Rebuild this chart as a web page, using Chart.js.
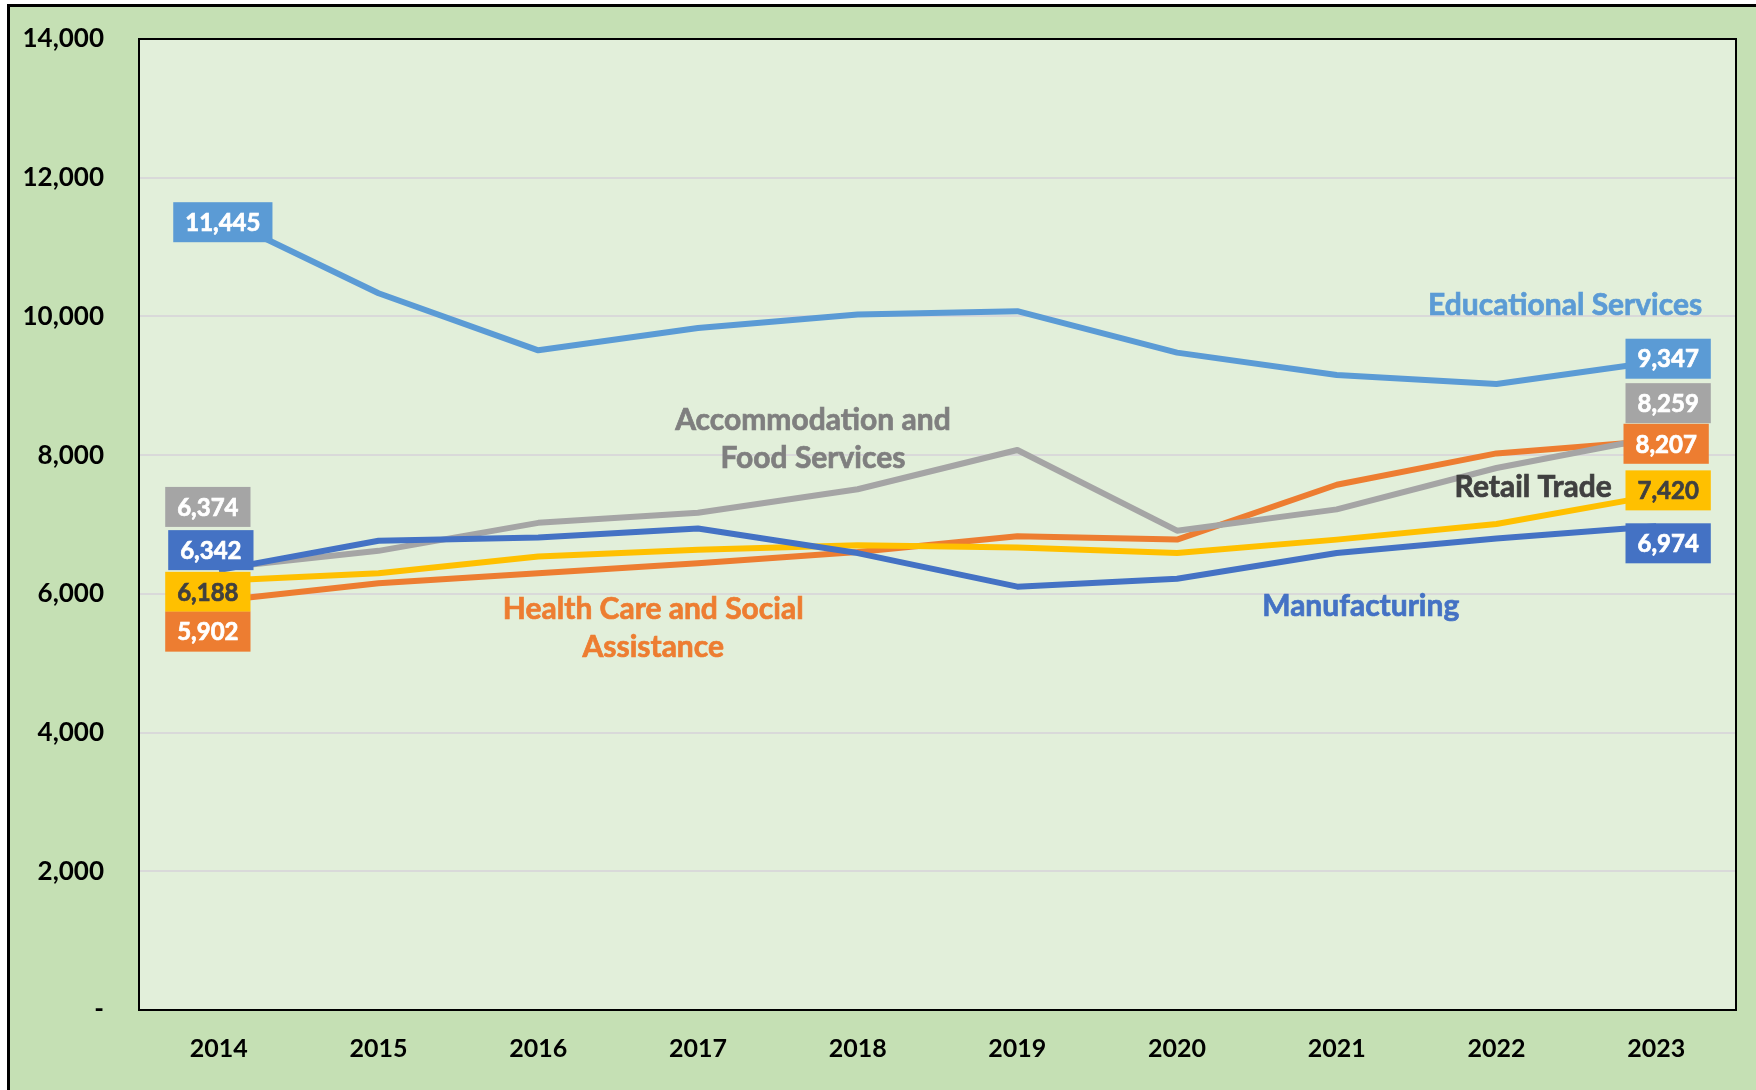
<!DOCTYPE html>
<html>
<head>
<meta charset="utf-8">
<script src="https://cdn.jsdelivr.net/npm/chart.js@4.4.1/dist/chart.umd.min.js"></script>
<style>
  html, body { margin: 0; padding: 0; background: #fff; overflow: hidden; }
  #frame {
    position: absolute; left: 7px; top: 4px; width: 1800px; height: 1200px;
    background: #C5E0B4; border: 3px solid #000; box-sizing: border-box;
  }
  #wrap { position: absolute; left: 0; top: 0; width: 1756px; height: 1090px; }
</style>
</head>
<body>
<div id="frame"></div>
<div id="wrap"><canvas id="chart"></canvas></div>
<script>
const years = ["2014", "2015", "2016", "2017", "2018", "2019", "2020", "2021", "2022", "2023"];
const yTicks = [0, 2000, 4000, 6000, 8000, 10000, 12000, 14000];

const educational = [11445, 10334, 9511, 9834, 10028, 10076, 9478, 9155, 9026, 9347];
const accommodation = [6374, 6620, 7024, 7169, 7508, 8074, 6911, 7218, 7815, 8259];
const healthCare = [5902, 6152, 6297, 6443, 6604, 6830, 6782, 7573, 8025, 8207];
const retail = [6188, 6297, 6540, 6637, 6701, 6669, 6588, 6782, 7008, 7420];
const manufacturing = [6342, 6766, 6814, 6943, 6588, 6104, 6217, 6588, 6798, 6974];

// series names as drawn on the chart, anchored at (category index, value)
const seriesNames = [
  { lines: ["Educational Services"], at: [8.43, 10165], color: "#5B9BD5" },
  { lines: ["Accommodation and", "Food Services"], at: [3.72, 8233], color: "#7F7F7F" },
  { lines: ["Health Care and Social", "Assistance"], at: [2.72, 5508], color: "#ED7D31" },
  { lines: ["Retail Trade"], at: [8.23, 7541], color: "#404040" },
  { lines: ["Manufacturing"], at: [7.15, 5825], color: "#4472C4" }
];

const FONT = "Lato, 'Open Sans', sans-serif";

const plotBg = {
  id: "plotBg",
  beforeDraw(chart) {
    const a = chart.chartArea, ctx = chart.ctx;
    ctx.save();
    ctx.fillStyle = "#E2EFDA";
    ctx.fillRect(a.left, a.top, a.right - a.left, a.bottom - a.top);
    ctx.restore();
  },
  beforeDatasetsDraw(chart) {
    const a = chart.chartArea, ctx = chart.ctx;
    ctx.save();
    ctx.strokeStyle = "#000";
    ctx.lineWidth = 2;
    ctx.strokeRect(a.left, a.top, a.right - a.left, a.bottom - a.top);
    ctx.restore();
  }
};

// bold text with a thin outline in the same colour, a bit heavier like the original
function boldText(ctx, txt, x, y, color) {
  ctx.fillStyle = color;
  ctx.strokeStyle = color;
  ctx.lineWidth = 0.7;
  ctx.fillText(txt, x, y);
  ctx.strokeText(txt, x, y);
}

const valueBoxes = {
  id: "valueBoxes",
  afterDatasetsDraw(chart) {
    const ctx = chart.ctx;
    const xs = chart.scales.x, ys = chart.scales.y;
    ctx.save();
    ctx.textAlign = "center";
    ctx.textBaseline = "middle";
    // series names
    seriesNames.forEach(s => {
      const cx = xs.getPixelForValue(s.at[0]);
      const cy = ys.getPixelForValue(s.at[1]);
      ctx.font = "bold 30px " + FONT;
      const lh = 38;
      const y0 = cy - (s.lines.length - 1) * lh / 2;
      s.lines.forEach((t, i) => boldText(ctx, t, cx, y0 + i * lh, s.color));
    });
    // value boxes at first and last points
    chart.data.datasets.forEach(ds => {
      [[0, ds.firstNudge], [ds.data.length - 1, ds.lastNudge]].forEach(([idx, nudge]) => {
        const v = ds.data[idx];
        const txt = v.toLocaleString("en-US");
        ctx.font = "bold 24px " + FONT;
        const w = ctx.measureText(txt).width + 24;
        const h = 40;
        const cx = xs.getPixelForValue(idx) + nudge[0];
        const cy = ys.getPixelForValue(v) + nudge[1];
        ctx.fillStyle = ds.borderColor;
        ctx.fillRect(cx - w / 2, cy - h / 2, w, h);
        boldText(ctx, txt, cx, cy + 1, ds.labelText);
      });
    });
    ctx.restore();
  }
};

// firstNudge / lastNudge: pixel shift [dx, dy] of the value boxes at 2014 / 2023
function line(label, data, color, textColor, firstNudge, lastNudge) {
  return {
    label: label, data: data, borderColor: color, backgroundColor: color,
    borderWidth: 6, pointRadius: 0, tension: 0, labelText: textColor,
    firstNudge: firstNudge, lastNudge: lastNudge,
    borderCapStyle: "butt", borderJoinStyle: "round"
  };
}

new Chart(document.getElementById("chart"), {
  type: "line",
  data: {
    labels: years,
    datasets: [
      line("Manufacturing", manufacturing, "#4472C4", "#FFFFFF", [-8, -20], [12, 17]),
      line("Accommodation and Food Services", accommodation, "#A5A5A5", "#FFFFFF", [-11, -61], [12, -34]),
      line("Retail Trade", retail, "#FFC000", "#404040", [-11, 11], [12, -5]),
      line("Health Care and Social Assistance", healthCare, "#ED7D31", "#FFFFFF", [-11, 31], [10, 3]),
      line("Educational Services", educational, "#5B9BD5", "#FFFFFF", [4, 6], [12, -3])
    ]
  },
  options: {
    responsive: true,
    maintainAspectRatio: false,
    animation: false,
    layout: { padding: { top: 39, right: 20, left: 0, bottom: 0 } },
    plugins: { legend: { display: false }, tooltip: { enabled: false } },
    scales: {
      x: {
        offset: true,
        grid: { display: false, drawTicks: false },
        border: { display: false },
        ticks: { color: "#000", font: { family: FONT, size: 25, weight: "bold" }, padding: 24 },
        afterFit(s) { s.height = 80; }
      },
      y: {
        min: 0, max: 14000,
        afterBuildTicks(s) { s.ticks = yTicks.map(v => ({ value: v })); },
        grid: { color: "#D9D9D9", lineWidth: 2, drawTicks: false },
        border: { display: false },
        ticks: {
          color: "#000", padding: 35,
          font: { family: FONT, size: 26, weight: "bold" },
          callback: v => v === 0 ? "-" : v.toLocaleString("en-US")
        },
        afterFit(s) { s.width = 139; s.paddingTop = 0; s.paddingBottom = 0; }
      }
    }
  },
  plugins: [plotBg, valueBoxes]
});
</script>
</body>
</html>
